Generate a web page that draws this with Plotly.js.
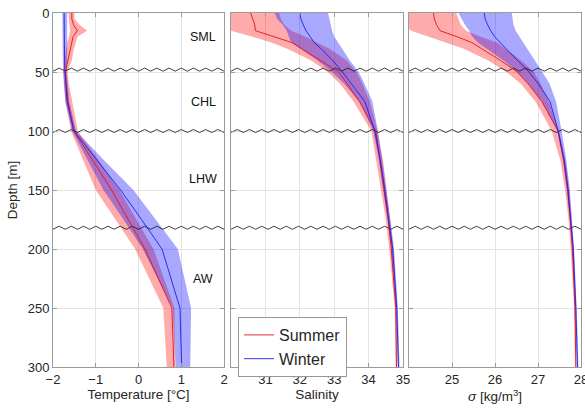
<!DOCTYPE html>
<html>
<head>
<meta charset="utf-8">
<script src="https://cdn.plot.ly/plotly-3.0.1.min.js"></script>
<style>html,body{margin:0;padding:0;background:#fff;}#chart{width:585px;height:408px;}</style>
</head>
<body>
<div id="chart"></div>
<script>
const depth = [0,5,10,15,20,25,30,40,50,60,75,100,125,150,175,200,250,300];

const tempSummer   = [-1.56,-1.56,-1.52,-1.43,-1.53,-1.56,-1.60,-1.66,-1.71,-1.69,-1.65,-1.51,-1.07,-0.63,-0.24,0.15,0.78,0.83];
const tempSummerLo = [-1.64,-1.63,-1.62,-1.60,-1.63,-1.67,-1.69,-1.72,-1.76,-1.75,-1.71,-1.58,-1.29,-1.00,-0.54,-0.08,0.58,0.66];
const tempSummerHi = [-1.50,-1.50,-1.38,-1.20,-1.42,-1.47,-1.51,-1.56,-1.66,-1.63,-1.55,-1.42,-0.93,-0.45,-0.05,0.35,0.84,0.86];
const tempWinter   = [-1.74,-1.74,-1.74,-1.74,-1.74,-1.74,-1.74,-1.73,-1.72,-1.70,-1.67,-1.51,-0.97,-0.42,0.07,0.55,0.97,1.01];
const tempWinterLo = [-1.78,-1.78,-1.78,-1.78,-1.78,-1.78,-1.78,-1.77,-1.76,-1.74,-1.71,-1.55,-1.18,-0.82,-0.35,0.10,0.80,0.87];
const tempWinterHi = [-1.67,-1.67,-1.67,-1.67,-1.67,-1.67,-1.67,-1.67,-1.68,-1.66,-1.62,-1.46,-0.80,-0.12,0.40,0.92,1.23,1.21];

const salSummer   = [30.57,30.63,30.69,30.71,31.27,31.77,32.04,32.59,33.13,33.38,33.73,34.21,34.33,34.45,34.57,34.66,34.79,34.81];
const salSummerLo = [29.6,29.7,29.85,30.0,30.6,31.17,31.62,32.32,32.81,33.17,33.56,34.08,34.22,34.36,34.5,34.6,34.76,34.79];
const salSummerHi = [31.4,31.45,31.55,31.75,32.15,32.5,32.85,33.36,33.65,33.82,34.03,34.26,34.42,34.53,34.63,34.72,34.82,34.83];
const salWinter   = [32.0,32.03,32.1,32.18,32.3,32.42,32.61,32.95,33.24,33.51,33.89,34.18,34.34,34.47,34.59,34.7,34.82,34.87];
const salWinterLo = [31.27,31.34,31.5,31.62,31.68,31.75,32.01,32.51,32.93,33.29,33.73,34.14,34.3,34.43,34.55,34.66,34.79,34.84];
const salWinterHi = [32.82,32.85,32.9,32.94,33.0,33.12,33.23,33.45,33.71,33.88,34.11,34.27,34.4,34.52,34.63,34.74,34.85,34.9];

const sigSummer   = [24.57,24.59,24.64,24.72,25.11,25.46,25.68,26.12,26.52,26.77,27.09,27.47,27.6,27.69,27.75,27.8,27.86,27.88];
const sigSummerLo = [23.7,23.8,23.9,24.05,24.47,24.87,25.26,25.83,26.27,26.6,26.94,27.32,27.52,27.63,27.71,27.76,27.84,27.86];
const sigSummerHi = [25.1,25.15,25.2,25.33,25.65,26.04,26.23,26.6,26.91,27.06,27.25,27.49,27.64,27.73,27.78,27.83,27.88,27.89];
const sigWinter   = [25.75,25.77,25.83,25.9,25.99,26.11,26.25,26.52,26.79,27.01,27.28,27.47,27.61,27.7,27.76,27.82,27.88,27.92];
const sigWinterLo = [25.15,25.22,25.3,25.4,25.47,25.6,25.8,26.19,26.51,26.77,27.09,27.45,27.58,27.67,27.74,27.8,27.86,27.9];
const sigWinterHi = [26.39,26.41,26.43,26.48,26.55,26.64,26.73,26.92,27.1,27.27,27.42,27.55,27.66,27.74,27.79,27.84,27.9,27.94];

const layerBoundaries = [48, 100, 182];
const layerNames = ['SML', 'CHL', 'LHW', 'AW'];
const layerLabelDepth = [20, 75, 141, 225];

const tempTicks = [-2,-1,0,1,2];
const salTicks = [31,32,33,34,35];
const sigTicks = [25,26,27,28];
const depthTicks = [0,50,100,150,200,250,300];

const redLine = 'rgb(225,20,20)';
const blueLine = 'rgb(30,30,230)';
const redFill = 'rgba(255,0,0,0.33)';
const blueFill = 'rgba(0,0,255,0.34)';
const txt = '#262626';

const panels = [
  {xa:'x',  ya:'y',  range:[-2,2],  s:[tempSummer,tempSummerLo,tempSummerHi], w:[tempWinter,tempWinterLo,tempWinterHi]},
  {xa:'x2', ya:'y2', range:[30,35], s:[salSummer,salSummerLo,salSummerHi],    w:[salWinter,salWinterLo,salWinterHi]},
  {xa:'x3', ya:'y3', range:[24,28], s:[sigSummer,sigSummerLo,sigSummerHi],    w:[sigWinter,sigWinterLo,sigWinterHi]}
];

const traces = [];
const rev = a => a.slice().reverse();
panels.forEach((p, i) => {
  const band = (lo, hi, col) => ({
    x: lo.concat(rev(hi)), y: depth.concat(rev(depth)), xaxis: p.xa, yaxis: p.ya,
    type: 'scatter', mode: 'lines', fill: 'toself', fillcolor: col,
    line: {width: 0, color: col}, showlegend: false, hoverinfo: 'skip'
  });
  traces.push(band(p.s[1], p.s[2], redFill));
  traces.push(band(p.w[1], p.w[2], blueFill));
  // zigzag layer boundaries
  layerBoundaries.forEach(d => {
    const n = 28, xs = [], ys = [];
    for (let k = 0; k <= n; k++) {
      xs.push(p.range[0] + (p.range[1] - p.range[0]) * k / n);
      ys.push(d + (k % 2 === 0 ? 1.3 : -1.3));
    }
    traces.push({x: xs, y: ys, xaxis: p.xa, yaxis: p.ya, type: 'scatter', mode: 'lines',
      line: {color: '#111', width: 0.8}, showlegend: false, hoverinfo: 'skip'});
  });
  traces.push({x: p.s[0], y: depth, xaxis: p.xa, yaxis: p.ya, type: 'scatter', mode: 'lines',
    name: 'Summer', line: {color: redLine, width: 0.9}, showlegend: i === 1, legendrank: 1});
  traces.push({x: p.w[0], y: depth, xaxis: p.xa, yaxis: p.ya, type: 'scatter', mode: 'lines',
    name: 'Winter', line: {color: blueLine, width: 0.9}, showlegend: i === 1, legendrank: 2});
});

const font = {family: 'Liberation Sans, Arial, sans-serif', size: 13, color: txt};
const axBase = {
  showline: true, linecolor: 'rgb(155,155,155)', linewidth: 1, mirror: 'ticks',
  ticks: 'inside', ticklen: 4, tickcolor: 'rgb(155,155,155)',
  showgrid: true, gridcolor: 'rgb(228,228,228)', gridwidth: 1, zeroline: false,
  tickfont: {size: 13, color: txt}, ticklabeloverflow: 'allow'
};
const W = 528;
const yBase = Object.assign({}, axBase, {range: [300, 0], tickvals: depthTicks, autorange: false});

const layout = {
  width: 585, height: 408,
  margin: {l: 53, r: 4, t: 13, b: 41},
  paper_bgcolor: '#fff', plot_bgcolor: '#fff',
  font: font,
  showlegend: true,
  legend: {x: (238-53)/W, y: (367-317)/354, xanchor: 'left', yanchor: 'top',
    bgcolor: '#fff', bordercolor: 'rgb(150,150,150)', borderwidth: 1,
    font: {size: 16, color: txt}, tracegroupgap: 0, itemwidth: 30},
  xaxis: Object.assign({}, axBase, {domain: [0, 171/W], range: [-2, 2], tickvals: tempTicks, anchor: 'y',
    title: {text: 'Temperature [°C]', font: {size: 13.5, color: txt}, standoff: 2}}),
  xaxis2: Object.assign({}, axBase, {domain: [178/W, 350/W], range: [30, 35], tickvals: salTicks, anchor: 'y2',
    title: {text: 'Salinity', font: {size: 13.5, color: txt}, standoff: 2}}),
  xaxis3: Object.assign({}, axBase, {domain: [356/W, 1], range: [24, 28], tickvals: sigTicks, anchor: 'y3',
    title: {text: '<i>σ</i> [kg/m<sup>3</sup>]', font: {size: 13.5, color: txt}, standoff: 2}}),
  yaxis: Object.assign({}, yBase, {anchor: 'x',
    title: {text: 'Depth [m]', font: {size: 13.5, color: txt}, standoff: 6}}),
  yaxis2: Object.assign({}, yBase, {anchor: 'x2', showticklabels: false}),
  yaxis3: Object.assign({}, yBase, {anchor: 'x3', showticklabels: false}),
  annotations: layerNames.map((n, i) => ({
    text: n, x: i === 3 ? 1.51 : 1.52, y: layerLabelDepth[i], xref: 'x', yref: 'y',
    showarrow: false, xanchor: 'center', yanchor: 'middle', font: {size: 12.5, color: '#111'}
  }))
};

Plotly.newPlot('chart', traces, layout, {displayModeBar: false, staticPlot: true});
</script>
</body>
</html>
